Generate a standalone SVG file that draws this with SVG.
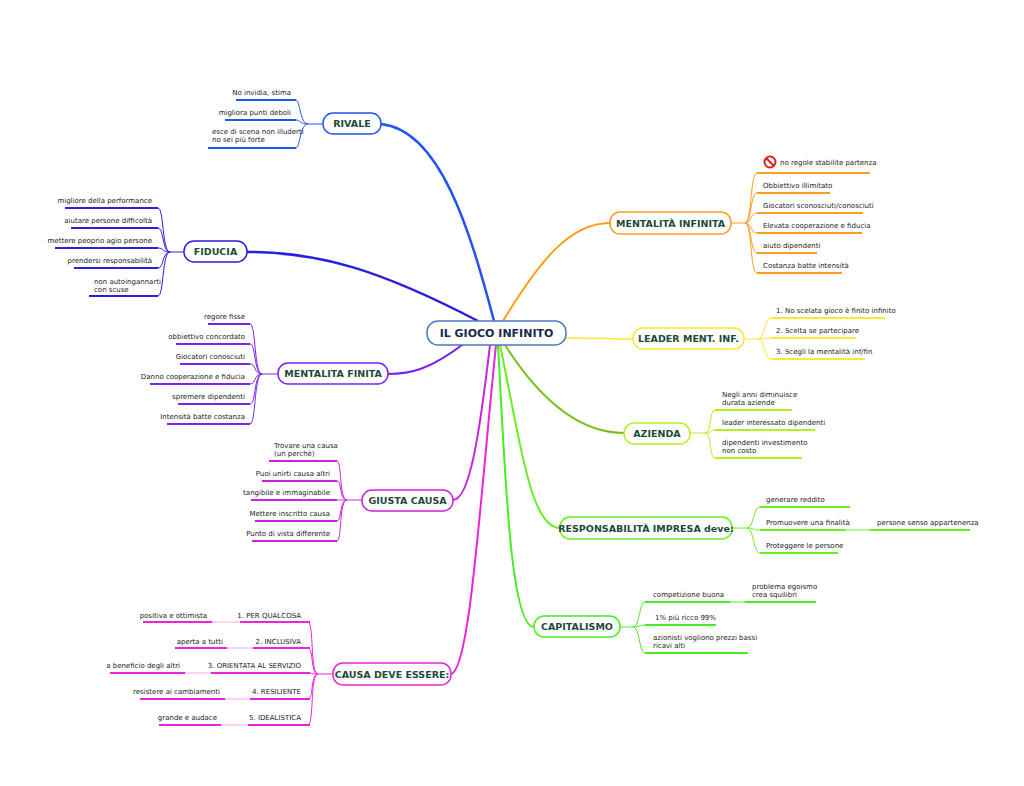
<svg xmlns="http://www.w3.org/2000/svg" width="1024" height="786" viewBox="0 0 1024 786">
<style>
text{font-family:"DejaVu Sans",Verdana,sans-serif;font-size:7px;fill:#222}
.n text,text.n{font-size:9.5px;font-weight:bold;fill:#1e4a3a}
.r{text-anchor:end}
path{fill:none}
.u{stroke-width:2}
.t{stroke-width:1}
rect{fill:#fff;stroke-width:1.5}
</style>
<rect x="0" y="0" width="1024" height="786" fill="#fff" stroke="none"/>
<g id="connectors">
<!-- main -->
<path d="M494,321 C470,230 440,130 381,124" stroke="#2255ee" stroke-width="2.5"/>
<path d="M478,321 C380,270 320,252 247,252" stroke="#2a1ee0" stroke-width="2.5"/>
<path d="M466,342 C430,370 410,374 388,374" stroke="#7a22ee" stroke-width="2.2"/>
<path d="M490,345 C480,430 470,500 453,500" stroke="#cc22dd" stroke-width="2"/>
<path d="M496,345 C480,500 470,670 451,674" stroke="#ee22dd" stroke-width="2"/>
<path d="M503,321 C540,260 570,223 610,223" stroke="#ff9d1e" stroke-width="2"/>
<path d="M566,338 C600,338 610,339 633,339" stroke="#ffe830" stroke-width="1.5"/>
<path d="M505,345 C540,400 580,433 624,433" stroke="#7ac020" stroke-width="2"/>
<path d="M500,345 C520,440 530,528 560,528" stroke="#66ee22" stroke-width="2"/>
<path d="M498,345 C505,470 510,627 534,627" stroke="#44ee22" stroke-width="2"/>
<!-- RIVALE -->
<g stroke="#2255ee">
<path class="t" d="M323,124 H308 M308,124 C300,124 300,100 296,100 M308,124 C300,124 300,120 296,120 M308,124 C300,124 300,148 296,148"/>
<path class="u" d="M236,100 H296 M225,120 H296 M208,148 H296"/>
</g>
<!-- FIDUCIA -->
<g stroke="#2a1ee0">
<path class="t" d="M184,252 H170 M170,252 C162,252 164,208 158,208 M170,252 C162,252 164,228 158,228 M170,252 C162,252 164,248 158,248 M170,252 C162,252 164,268 158,268 M170,252 C162,252 164,296 158,296"/>
<path class="u" d="M65,208 H158 M71,228 H158 M55,248 H158 M74,268 H158 M89,296 H158"/>
</g>
<!-- MENTALITA FINITA -->
<g stroke="#7a22ee">
<path class="t" d="M278,374 H262 M262,374 C254,374 256,324 250,324 M262,374 C254,374 256,344 250,344 M262,374 C254,374 256,364 250,364 M262,374 C254,374 256,384 250,384 M262,374 C254,374 256,404 250,404 M262,374 C254,374 256,424 250,424"/>
<path class="u" d="M208,324 H250 M176,344 H250 M180,364 H250 M150,384 H250 M178,404 H250 M167,424 H250"/>
</g>
<!-- GIUSTA CAUSA -->
<g stroke="#cc22dd">
<path class="t" d="M362,500 H347 M347,500 C339,500 342,461 337,461 M347,500 C339,500 342,481 337,481 M347,500 C339,500 342,500 337,500 M347,500 C339,500 342,521 337,521 M347,500 C339,500 342,541 337,541"/>
<path class="u" d="M269,461 H337 M262,481 H337 M251,500 H337 M255,521 H337 M252,541 H337"/>
</g>
<!-- CAUSA DEVE ESSERE -->
<g stroke="#ee22dd">
<path class="t" d="M333,674 H318 M318,674 C310,674 314,622 308,622 M318,674 C310,674 314,648 308,648 M318,674 C310,674 314,673 308,673 M318,674 C310,674 314,699 308,699 M318,674 C310,674 314,725 308,725"/>
<path class="u" d="M240,622 H310 M253,648 H310 M211,673 H310 M250,699 H310 M248,725 H310 M143,622 H212 M175,648 H227 M110,673 H185 M140,699 H225 M159,725 H221"/>
<path class="t" stroke="#f6a8f0" d="M212,622 H240 M227,648 H253 M185,673 H211 M225,699 H250 M221,725 H248"/>
</g>
<!-- MENTALITA INFINITA -->
<g stroke="#ff9d1e">
<path class="t" d="M731,223 H745 M745,223 C752,223 750,173 757,173 M745,223 C752,223 750,193 757,193 M745,223 C752,223 750,213 757,213 M745,223 C752,223 750,233 757,233 M745,223 C752,223 750,253 757,253 M745,223 C752,223 750,273 757,273"/>
<path class="u" d="M757,173 H870 M757,193 H830 M757,213 H863 M757,233 H862 M757,253 H817 M757,273 H842"/>
</g>
<!-- LEADER -->
<g stroke="#ffe830">
<path class="t" d="M744,339 H758 M758,339 C765,339 764,318 771,318 M758,339 C765,339 764,338 771,338 M758,339 C765,339 764,359 771,359"/>
<path class="u" d="M771,318 H885 M771,338 H856 M771,359 H865"/>
</g>
<!-- AZIENDA -->
<g stroke="#b4f020">
<path class="t" d="M690,433 H705 M705,433 C712,433 709,410 715,410 M705,433 C712,433 709,430 715,430 M705,433 C712,433 709,458 715,458"/>
<path class="u" d="M715,410 H792 M715,430 H815 M715,458 H802"/>
</g>
<!-- RESPONSABILITA -->
<g stroke="#66ee22">
<path class="t" d="M732,528 H747 M747,528 C754,528 753,507 760,507 M747,528 C754,528 753,530 760,530 M747,528 C754,528 753,553 760,553"/>
<path class="u" d="M760,507 H850 M760,530 H845 M870,530 H970 M760,553 H838"/>
<path class="t" d="M845,530 H870"/>
</g>
<!-- CAPITALISMO -->
<g stroke="#44ee22">
<path class="t" d="M620,627 H633 M633,627 C640,627 639,602 645,602 M633,627 C640,627 639,625 645,625 M633,627 C640,627 639,653 645,653"/>
<path class="u" d="M645,602 H730 M745,602 H816 M645,625 H716 M645,653 H748"/>
<path class="t" d="M730,602 H745"/>
</g>
</g>
<g id="center" class="n"><rect x="427" y="321" width="139" height="24" rx="11" stroke="#4a7ac0"/><text x="496.5" y="337" text-anchor="middle" style="font-size:11px;fill:#1a2a4a">IL GIOCO INFINITO</text></g>
<g id="rivale" class="n"><rect x="323" y="113" width="58" height="21" rx="10" stroke="#2255ee"/><text x="352" y="127" text-anchor="middle">RIVALE</text></g>
<g id="fiducia" class="n"><rect x="184" y="241" width="63" height="21" rx="10" stroke="#2a1ee0"/><text x="215.5" y="255" text-anchor="middle">FIDUCIA</text></g>
<g id="mfinita" class="n"><rect x="278" y="363" width="110" height="21" rx="10" stroke="#7a22ee"/><text x="333" y="377" text-anchor="middle">MENTALITA FINITA</text></g>
<g id="giusta" class="n"><rect x="362" y="490" width="91" height="21" rx="10" stroke="#cc22dd"/><text x="407.5" y="504" text-anchor="middle">GIUSTA CAUSA</text></g>
<g id="causa" class="n"><rect x="333" y="663" width="118" height="22" rx="10" stroke="#ee22dd"/><text x="392" y="677.5" text-anchor="middle">CAUSA DEVE ESSERE:</text></g>
<g id="minfinita" class="n"><rect x="610" y="212" width="121" height="22" rx="10" stroke="#ff9d1e"/><text x="670.5" y="226.5" text-anchor="middle">MENTALITÀ INFINITA</text></g>
<g id="leader" class="n"><rect x="633" y="328" width="111" height="21" rx="10" stroke="#ffe830"/><text x="688.5" y="342" text-anchor="middle">LEADER MENT. INF.</text></g>
<g id="azienda" class="n"><rect x="624" y="423" width="66" height="21" rx="10" stroke="#b4f020"/><text x="657" y="437" text-anchor="middle">AZIENDA</text></g>
<g id="resp" class="n"><rect x="560" y="517" width="172" height="22" rx="10" stroke="#66ee22"/><text x="646" y="531.5" text-anchor="middle">RESPONSABILITÀ IMPRESA deve:</text></g>
<g id="capit" class="n"><rect x="534" y="616" width="86" height="21" rx="10" stroke="#44ee22"/><text x="577" y="630" text-anchor="middle">CAPITALISMO</text></g>
<g id="leaves-left">
<text class="r" x="291" y="95">No invidia, stima</text>
<text class="r" x="291" y="115">migliora punti deboli</text>
<text x="212" y="134">esce di scena non illuderti</text><text x="212" y="142">no sei più forte</text>
<text class="r" x="152" y="203">migliore della performance</text>
<text class="r" x="152" y="223">aiutare persone difficoltà</text>
<text class="r" x="152" y="243">mettere peoprio agio persone</text>
<text class="r" x="152" y="263">prendersi responsabilità</text>
<text x="94" y="284">non autoingannarti</text><text x="94" y="292">con scuse</text>
<text class="r" x="245" y="319">regore fisse</text>
<text class="r" x="245" y="339">obbiettivo concordato</text>
<text class="r" x="245" y="359">Giocatori conosciuti</text>
<text class="r" x="245" y="379">Danno cooperazione e fiducia</text>
<text class="r" x="245" y="399">spremere dipendenti</text>
<text class="r" x="245" y="419">Intensità batte costanza</text>
<text x="274" y="448">Trovare una causa</text><text x="274" y="456">(un perchè)</text>
<text class="r" x="330" y="476">Puoi unirti causa altri</text>
<text class="r" x="330" y="495">tangibile e immaginabile</text>
<text class="r" x="330" y="516">Mettere inscritto causa</text>
<text class="r" x="330" y="536">Punto di vista differente</text>
<text class="r" x="301" y="618">1. PER QUALCOSA</text>
<text class="r" x="301" y="644">2. INCLUSIVA</text>
<text class="r" x="301" y="668">3. ORIENTATA AL SERVIZIO</text>
<text class="r" x="301" y="694">4. RESILIENTE</text>
<text class="r" x="301" y="720">5. IDEALISTICA</text>
<text class="r" x="207" y="618">positiva e ottimista</text>
<text class="r" x="223" y="644">aperta a tutti</text>
<text class="r" x="180" y="668">a beneficio degli altri</text>
<text class="r" x="220" y="694">resistere ai cambiamenti</text>
<text class="r" x="217" y="720">grande e audace</text>
</g>
<g id="leaves-right">
<g transform="translate(770,162)"><circle r="5.5" fill="#fff" stroke="#e02020" stroke-width="2"/><line x1="-3.8" y1="-3.8" x2="3.8" y2="3.8" stroke="#e02020" stroke-width="2"/></g>
<text x="780" y="165">no regole stabilite partenza</text>
<text x="763" y="188"> Obbiettivo illimitato</text>
<text x="763" y="208">Giocatori sconosciuti/conosciuti</text>
<text x="763" y="228">Elevata cooperazione e fiducia</text>
<text x="763" y="248">aiuto dipendenti</text>
<text x="763" y="268">Costanza batte intensità</text>
<text x="776" y="313">1. No scelata gioco è finito infinito</text>
<text x="776" y="333">2. Scelta se partecipare</text>
<text x="776" y="354">3. Scegli la mentalità inf/fin</text>
<text x="722" y="397">Negli anni diminuisce</text><text x="722" y="405">durata aziende</text>
<text x="722" y="425">leader interessato dipendenti</text>
<text x="722" y="445"> dipendenti investimento</text><text x="722" y="453">non costo</text>
<text x="766" y="502">generare reddito</text>
<text x="766" y="525">Promuovere una finalità</text>
<text x="877" y="525">persone senso appartenenza</text>
<text x="766" y="548">Proteggere le persone</text>
<text x="653" y="597">competizione buona</text>
<text x="752" y="589">problema egoismo</text><text x="752" y="597">crea squilibri</text>
<text x="655" y="620">1% più ricco 99%</text>
<text x="653" y="640">azionisti vogliono prezzi bassi</text><text x="653" y="648">ricavi alti</text>
</g>
</svg>
